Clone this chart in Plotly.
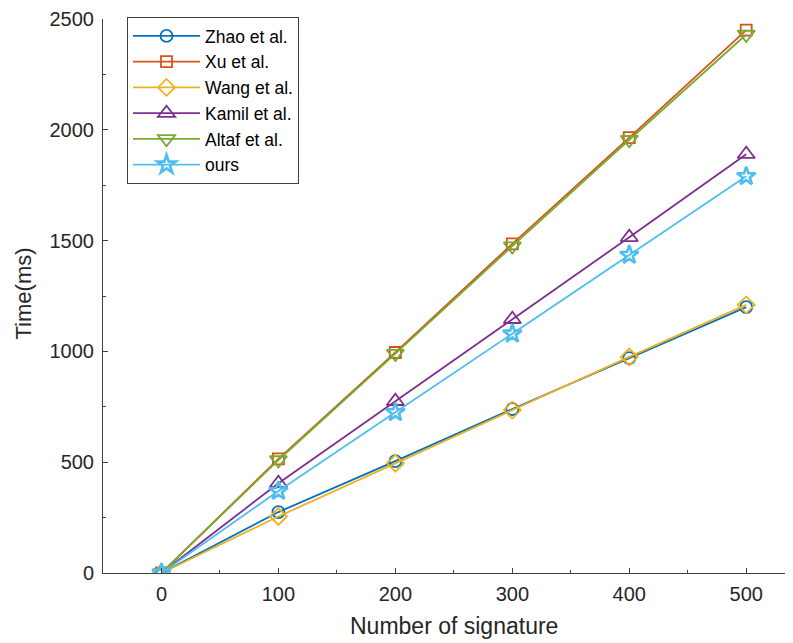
import plotly.graph_objects as go

x_vals = [0, 100, 200, 300, 400, 500]
series_names = ["Zhao et al.", "Xu et al.", "Wang et al.", "Kamil et al.", "Altaf et al.", "ours"]
zhao = [0, 275, 505, 740, 970, 1200]
xu = [0, 515, 995, 1485, 1965, 2450]
wang = [0, 255, 495, 735, 975, 1210]
kamil = [0, 405, 775, 1145, 1515, 1890]
altaf = [0, 510, 990, 1475, 1955, 2430]
ours = [0, 370, 725, 1080, 1435, 1790]
y_ticks = [0, 500, 1000, 1500, 2000, 2500]
x_ticks = [0, 100, 200, 300, 400, 500]

colors = ["#0072BD", "#D95319", "#EDB120", "#7E2F8E", "#77AC30", "#4DBEEE"]
symbols = ["circle-open", "square-open", "diamond-open", "triangle-up-open", "triangle-down-open", "star-open"]
sizes = [12, 11, 13, 15, 15, 14]
widths = [1.8, 1.8, 1.8, 1.8, 1.8, 2.6]
all_series = [zhao, xu, wang, kamil, altaf, ours]

fig = go.Figure()
for name, ys, c, s, sz, w in zip(series_names, all_series, colors, symbols, sizes, widths):
    fig.add_trace(go.Scatter(
        x=x_vals, y=ys, name=name, mode="lines+markers",
        line=dict(color=c, width=1.8),
        marker=dict(symbol=s, size=sz, color=c, line=dict(color=c, width=w)),
    ))

axis_color = "#404040"
font_color = "#262626"
fam = "Liberation Sans, Arial, sans-serif"
fig.update_layout(
    width=785, height=635,
    margin=dict(l=95, r=0, t=11, b=70),
    paper_bgcolor="white", plot_bgcolor="white",
    font=dict(family=fam, color=font_color, size=20),
    showlegend=True,
    legend=dict(
        x=0.0348, y=1.0036, xanchor="left", yanchor="top",
        bgcolor="white", bordercolor=axis_color, borderwidth=1,
        font=dict(size=17.5, color="#000000"),
        itemwidth=67, traceorder="normal",
    ),
    xaxis=dict(
        range=[-50, 540], tickvals=x_ticks, showgrid=False, zeroline=False,
        showline=True, linecolor=axis_color, linewidth=1,
        ticks="inside", ticklen=5, tickcolor=axis_color,
        minor=dict(dtick=50, tick0=0, ticks="inside", ticklen=3, tickcolor=axis_color, showgrid=False),
        tickfont=dict(size=20), ticklabelstandoff=3,
    ),
    yaxis=dict(
        range=[0, 2500], tickvals=y_ticks, showgrid=False, zeroline=False,
        showline=True, linecolor=axis_color, linewidth=1,
        ticks="inside", ticklen=5, tickcolor=axis_color,
        minor=dict(dtick=250, tick0=0, ticks="inside", ticklen=3, tickcolor=axis_color, showgrid=False),
        tickfont=dict(size=20), ticklabelstandoff=4,
    ),
    annotations=[
        dict(text="Number of signature", xref="paper", yref="paper",
             x=0.5087, y=-0.0957, xanchor="center", yanchor="middle",
             showarrow=False, font=dict(size=23, color=font_color, family=fam)),
        dict(text="Time(ms)", xref="paper", yref="paper", textangle=-90,
             x=-0.1145, y=0.5045, xanchor="center", yanchor="middle",
             showarrow=False, font=dict(size=22, color=font_color, family=fam)),
    ],
)

fig.write_html("out.html")
